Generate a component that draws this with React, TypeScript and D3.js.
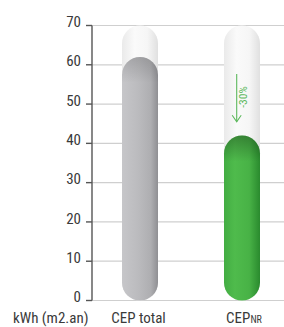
import React from 'react';
import * as d3 from 'd3';

const categories = ['CEP total', 'CEP_NR'];
const values = [62, 42];
const maxValues = [70, 70];
const yTicks = [0, 10, 20, 30, 40, 50, 60, 70];
const unitLabel = 'kWh (m2.an)';
const reductionLabel = '-30%';

const W = 284;
const H = 327;
const FONT = '"Liberation Sans Narrow", "Roboto Condensed", Roboto, sans-serif';

const App: React.FC = () => {
  const y = d3.scaleLinear().domain([0, 70]).range([300.5, 25.5]);
  const x = d3.scalePoint<string>().domain(categories).range([140, 242]);
  const barW = 36;
  const axisX = 92;

  const barFills = ['url(#grayBar)', 'url(#greenBar)'];

  // arrow sits in the empty part of the second pill
  const cx2 = x(categories[1])!;
  const arrowX = cx2 - 5.3;
  const arrowTop = 74;
  const arrowBottom = 121.7;
  const labelY = 323;

  return (
    <svg width={W} height={H} style={{ position: 'absolute', left: 0, top: 0 }}>
      <defs>
        <linearGradient id="pill" x1="0" x2="1" y1="0" y2="0">
          <stop offset="0%" stopColor="#eaeaea" />
          <stop offset="35%" stopColor="#fafafa" />
          <stop offset="70%" stopColor="#f6f6f6" />
          <stop offset="100%" stopColor="#e0e0e0" />
        </linearGradient>
        <linearGradient id="grayBar" x1="0" x2="1" y1="0" y2="0">
          <stop offset="0%" stopColor="#c6c6c9" />
          <stop offset="45%" stopColor="#bbbbbe" />
          <stop offset="80%" stopColor="#aeaeb1" />
          <stop offset="100%" stopColor="#8f8f93" />
        </linearGradient>
        <linearGradient id="greenBar" x1="0" x2="1" y1="0" y2="0">
          <stop offset="0%" stopColor="#43ad43" />
          <stop offset="30%" stopColor="#4fbb4c" />
          <stop offset="70%" stopColor="#48b246" />
          <stop offset="100%" stopColor="#2a8a2e" />
        </linearGradient>
        {values.map((v, i) => (
          <linearGradient
            key={i}
            id={`cap${i}`}
            gradientUnits="userSpaceOnUse"
            x1="0"
            x2="0"
            y1={y(v)}
            y2={y(v) + 26}
          >
            <stop offset="0%" stopColor="#000" stopOpacity={i === 0 ? 0.14 : 0.28} />
            <stop offset="100%" stopColor="#000" stopOpacity={0} />
          </linearGradient>
        ))}
      </defs>

      {yTicks.map((t) => (
        <line
          key={t}
          x1={axisX}
          x2={W}
          y1={y(t)}
          y2={y(t)}
          stroke="#cfcfcf"
          strokeWidth={1.2}
        />
      ))}

      {categories.map((c, i) => (
        <rect
          key={c}
          x={x(c)! - barW / 2}
          y={y(maxValues[i])}
          width={barW}
          height={y(0) - y(maxValues[i])}
          rx={barW / 2}
          fill="url(#pill)"
        />
      ))}

      {categories.map((c, i) => (
        <g key={c}>
          <rect
            x={x(c)! - barW / 2}
            y={y(values[i])}
            width={barW}
            height={y(0) - y(values[i])}
            rx={barW / 2}
            fill={barFills[i]}
          />
          <rect
            x={x(c)! - barW / 2}
            y={y(values[i])}
            width={barW}
            height={y(0) - y(values[i])}
            rx={barW / 2}
            fill={`url(#cap${i})`}
          />
        </g>
      ))}

      <line x1={axisX} x2={axisX} y1={y(70)} y2={y(0)} stroke="#555" strokeWidth={1.4} />
      {yTicks.map((t) => (
        <g key={t}>
          <line x1={axisX - 6} x2={axisX} y1={y(t)} y2={y(t)} stroke="#555" strokeWidth={1.4} />
          <text
            x={81}
            y={y(t) + 1.7}
            textAnchor="end"
            fontFamily={FONT}
            fontSize={15}
            fill="#3a3a3a"
          >
            {t}
          </text>
        </g>
      ))}

      <g stroke="#5cb85c" strokeWidth={1.1} fill="none">
        <line x1={arrowX} x2={arrowX} y1={arrowTop} y2={arrowBottom} />
        <polyline
          points={`${arrowX - 4.5},${arrowBottom - 6.5} ${arrowX},${arrowBottom} ${arrowX + 4.5},${arrowBottom - 6.5}`}
        />
      </g>
      <text
        transform={`translate(${cx2 + 4.5},97) rotate(-90)`}
        textAnchor="middle"
        fontFamily={FONT}
        fontSize={11.5}
        fill="#5cb85c"
      >
        {reductionLabel}
      </text>

      <text x={13} y={labelY} fontFamily={FONT} fontSize={15} fill="#3a3a3a">
        {unitLabel}
      </text>
      <text x={138.5} y={labelY} textAnchor="middle" fontFamily={FONT} fontSize={15} fill="#3a3a3a">
        {categories[0]}
      </text>
      <text x={244} y={labelY} textAnchor="middle" fontFamily={FONT} fontSize={15} fill="#3a3a3a">
        CEP
        <tspan fontSize={10}>NR</tspan>
      </text>
    </svg>
  );
};

export default App;
